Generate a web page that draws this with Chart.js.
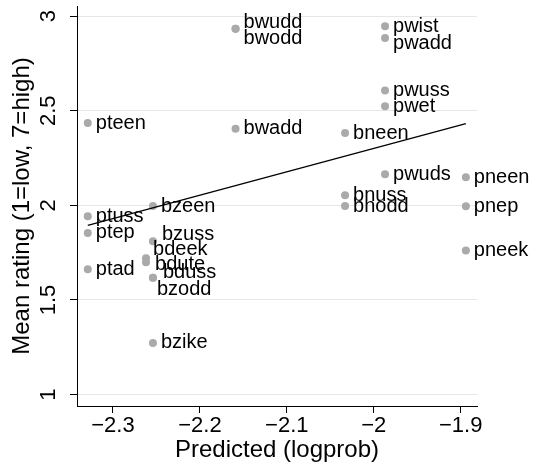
<!DOCTYPE html>
<html>
<head>
<meta charset="utf-8">
<script src="https://cdn.jsdelivr.net/npm/chart.js@4.4.1/dist/chart.umd.min.js"></script>
<style>
  body { margin: 0; background: #fff; }
  #wrap { width: 545px; height: 468px; }
</style>
</head>
<body>
<div id="wrap"><canvas id="myChart"></canvas></div>
<script>
// nonce words, predicted log probability and mean rating
var words = ['pteen','ptuss','ptep','ptad',
             'bzeen','bzuss','bdeek','bdute','bduss','bzodd','bzike',
             'bwudd','bwodd','bwadd',
             'bneen','bnuss','bnodd',
             'pwist','pwadd','pwuss','pwet','pwuds',
             'pneen','pnep','pneek'];
var predicted = [-2.329,-2.329,-2.329,-2.329,
                 -2.254,-2.254,-2.262,-2.262,-2.254,-2.254,-2.254,
                 -2.159,-2.159,-2.159,
                 -2.033,-2.033,-2.033,
                 -1.987,-1.987,-1.987,-1.987,-1.987,
                 -1.894,-1.894,-1.894];
var rating = [2.435,1.942,1.854,1.662,
              1.996,1.81,1.72,1.70,1.618,1.618,1.273,
              2.933,2.933,2.405,
              2.382,2.053,1.996,
              2.946,2.884,2.607,2.523,2.164,
              2.149,1.995,1.762];

// fitted line, read at its two ends
var fitX = [-2.329, -1.894];
var fitY = [1.894, 2.432];

var xTicks = [-2.3, -2.2, -2.1, -2, -1.9];
var xTickLabels = ['\u22122.3', '\u22122.2', '\u22122.1', '\u22122', '\u22121.9'];
var yTicks = [1, 1.5, 2, 2.5, 3];
var yTickLabels = ['1', '1.5', '2', '2.5', '3'];

// small label nudges (px) where labels crowd
var nudge = {
	bwudd: [0, -6], bwodd: [0, 10], pwadd: [0, 5],
	bzuss: [1, -7], bdeek: [-1, -9], bdute: [1, 2],
	bduss: [2, -5], bzodd: [-4, 12]
};

var FONT = 'Helvetica, Arial, "Liberation Sans", sans-serif';

var points = [];
for (var i = 0; i < words.length; i++) {
	points.push({ x: predicted[i], y: rating[i] });
}
var fit = [];
for (var j = 0; j < fitX.length; j++) {
	fit.push({ x: fitX[j], y: fitY[j] });
}

var pointLabels = {
	id: 'pointLabels',
	afterDatasetDraw: function(chart, args) {
		if (args.index !== 0) return;
		var ctx = chart.ctx;
		ctx.save();
		ctx.font = '20px ' + FONT;
		ctx.fillStyle = '#000';
		ctx.textAlign = 'left';
		ctx.textBaseline = 'middle';
		args.meta.data.forEach(function(pt, i) {
			var n = nudge[words[i]] || [0, 0];
			ctx.fillText(words[i], pt.x + 8 + n[0], pt.y + n[1]);
		});
		ctx.restore();
	}
};

// y tick labels turned on their side, as in the original
var yTickText = {
	id: 'yTickText',
	afterDraw: function(chart) {
		var ctx = chart.ctx;
		var sc = chart.scales.y;
		ctx.save();
		ctx.font = '22px ' + FONT;
		ctx.fillStyle = '#000';
		ctx.textAlign = 'center';
		ctx.textBaseline = 'middle';
		yTicks.forEach(function(v, i) {
			ctx.save();
			ctx.translate(sc.right - 28, sc.getPixelForValue(v));
			ctx.rotate(-Math.PI / 2);
			ctx.fillText(yTickLabels[i], 0, 0);
			ctx.restore();
		});
		ctx.restore();
	}
};

var ctx = document.getElementById('myChart');

var myChart = new Chart(ctx, {
	type: 'scatter',
	data: {
		datasets: [
			{
				data: points,
				backgroundColor: '#aaaaaa',
				borderWidth: 0,
				pointRadius: 4,
				pointHoverRadius: 4,
				order: 1
			},
			{
				type: 'line',
				data: fit,
				borderColor: '#000',
				borderWidth: 1.3,
				pointRadius: 0,
				fill: false,
				showLine: true,
				order: 0
			}
		]
	},
	options: {
		responsive: true,
		maintainAspectRatio: false,
		animation: false,
		devicePixelRatio: 1,
		layout: { padding: { top: 6, right: 68, bottom: 0, left: 0 } },
		plugins: { legend: { display: false }, tooltip: { enabled: false } },
		scales: {
			x: {
				type: 'linear',
				min: -2.3414,
				max: -1.8812,
				afterBuildTicks: function(s) {
					s.ticks = xTicks.map(function(v) { return { value: v }; });
				},
				afterFit: function(s) { s.height = 62; },
				ticks: {
					callback: function(v, i) { return xTickLabels[i]; },
					font: { family: FONT, size: 22 },
					color: '#000',
					padding: 0,
					maxRotation: 0,
					autoSkip: false
				},
				grid: {
					display: true,
					drawOnChartArea: false,
					drawTicks: true,
					tickLength: 7,
					tickColor: '#000',
					tickWidth: 1
				},
				border: { display: true, color: '#000', width: 1 },
				title: {
					display: true,
					text: 'Predicted (logprob)',
					font: { family: FONT, size: 24 },
					color: '#000',
					padding: { top: 0, bottom: 3 }
				}
			},
			y: {
				type: 'linear',
				min: 0.94,
				max: 3.053,
				afterBuildTicks: function(s) {
					s.ticks = yTicks.map(function(v) { return { value: v }; });
				},
				afterFit: function(s) { s.width = 77; },
				ticks: { display: false },
				grid: {
					color: '#e6e6e6',
					lineWidth: 1,
					drawTicks: true,
					tickLength: 7,
					tickColor: '#000',
					tickWidth: 1
				},
				border: { display: true, color: '#000', width: 1 },
				title: {
					display: true,
					text: 'Mean rating (1=low, 7=high)',
					font: { family: FONT, size: 24 },
					color: '#000',
					padding: { top: 8, bottom: 0 }
				}
			}
		}
	},
	plugins: [pointLabels, yTickText]
});
</script>
</body>
</html>
